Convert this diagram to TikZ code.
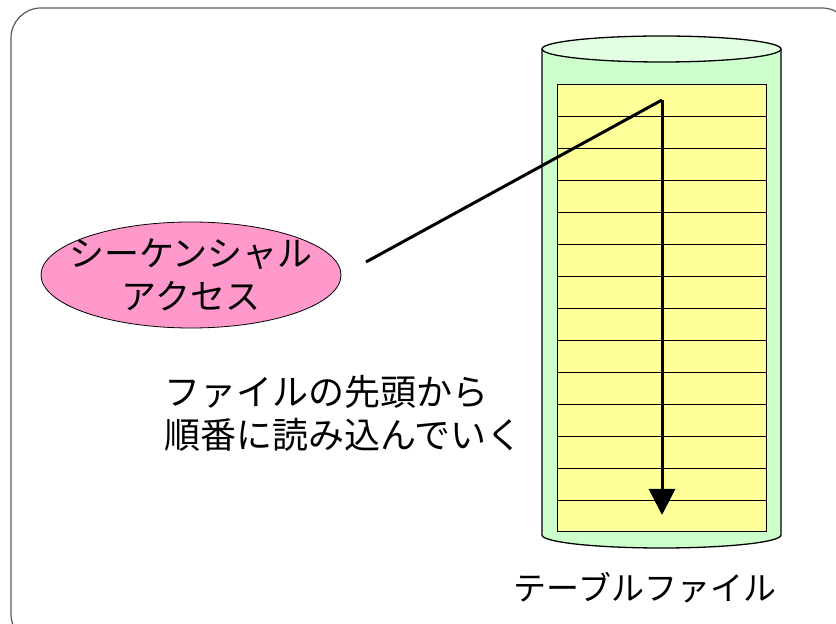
\documentclass[tikz,border=0pt]{standalone}
\usepackage{fontspec}
\setmainfont{Noto Sans CJK JP}
\usetikzlibrary{arrows.meta,shapes.geometric,positioning}
\usepackage{xcolor}
\definecolor{rosa}{HTML}{FF99CC}
\definecolor{verde}{HTML}{CCFFCC}
\definecolor{verdechiaro}{HTML}{E2FFE2}
\definecolor{giallo}{HTML}{FFFF99}

\begin{document}
\begin{tikzpicture}[x=1pt,y=1pt,
	testo/.style={align=left,inner sep=0pt}]
				\useasboundingbox (0,0) rectangle (836,624);
				% Cornice
				\draw[gray!70!black,line width=1.2pt,rounded corners=30pt] (11,616) rectangle (852,-20);
				
				% Cilindro
				\draw[line width=1.3pt,fill=verde] (542,575) -- (542,89)
				arc[start angle=180,end angle=360,x radius=119.5,y radius=13] -- (781,575);
				\draw[line width=1.3pt,fill=verdechiaro] (661.5,575) ellipse [x radius=119.5,y radius=13];
				
				% Record della tabella
				\draw[line width=1pt,fill=giallo] (557,92) rectangle (766,539);
				\foreach \i in {1,...,13}
					\draw[line width=1pt] (557,{92+\i*31.93}) -- (766,{92+\i*31.93});
				
				% Etichette
				\node[ellipse,draw,line width=0.8pt,fill=rosa,align=center,inner xsep=-19pt,inner ysep=-5pt,
					minimum width=300pt,minimum height=106pt,
					font=\fontsize{35}{43}\selectfont] (accesso) at (191,349) {シーケンシャル\\アクセス};
				\node[testo,anchor=west,font=\fontsize{36}{43}\selectfont] (lettura) at (164,211) {ファイルの先頭から\\順番に読み込んでいく};
				\node[testo,font=\fontsize{33}{43}\selectfont] (tabella) at (645,36) {テーブルファイル};
				
				% Lettura sequenziale
				\coordinate (inizio) at (662,524);
				\coordinate (fine) at (662,109);
				\coordinate (punta) at (366,362);
				\draw[line width=3pt] (punta) -- (inizio);
				\draw[line width=3pt,-{Triangle[length=26pt,width=26pt]}] (inizio) -- (fine);
				
			\end{tikzpicture}
\end{document}
